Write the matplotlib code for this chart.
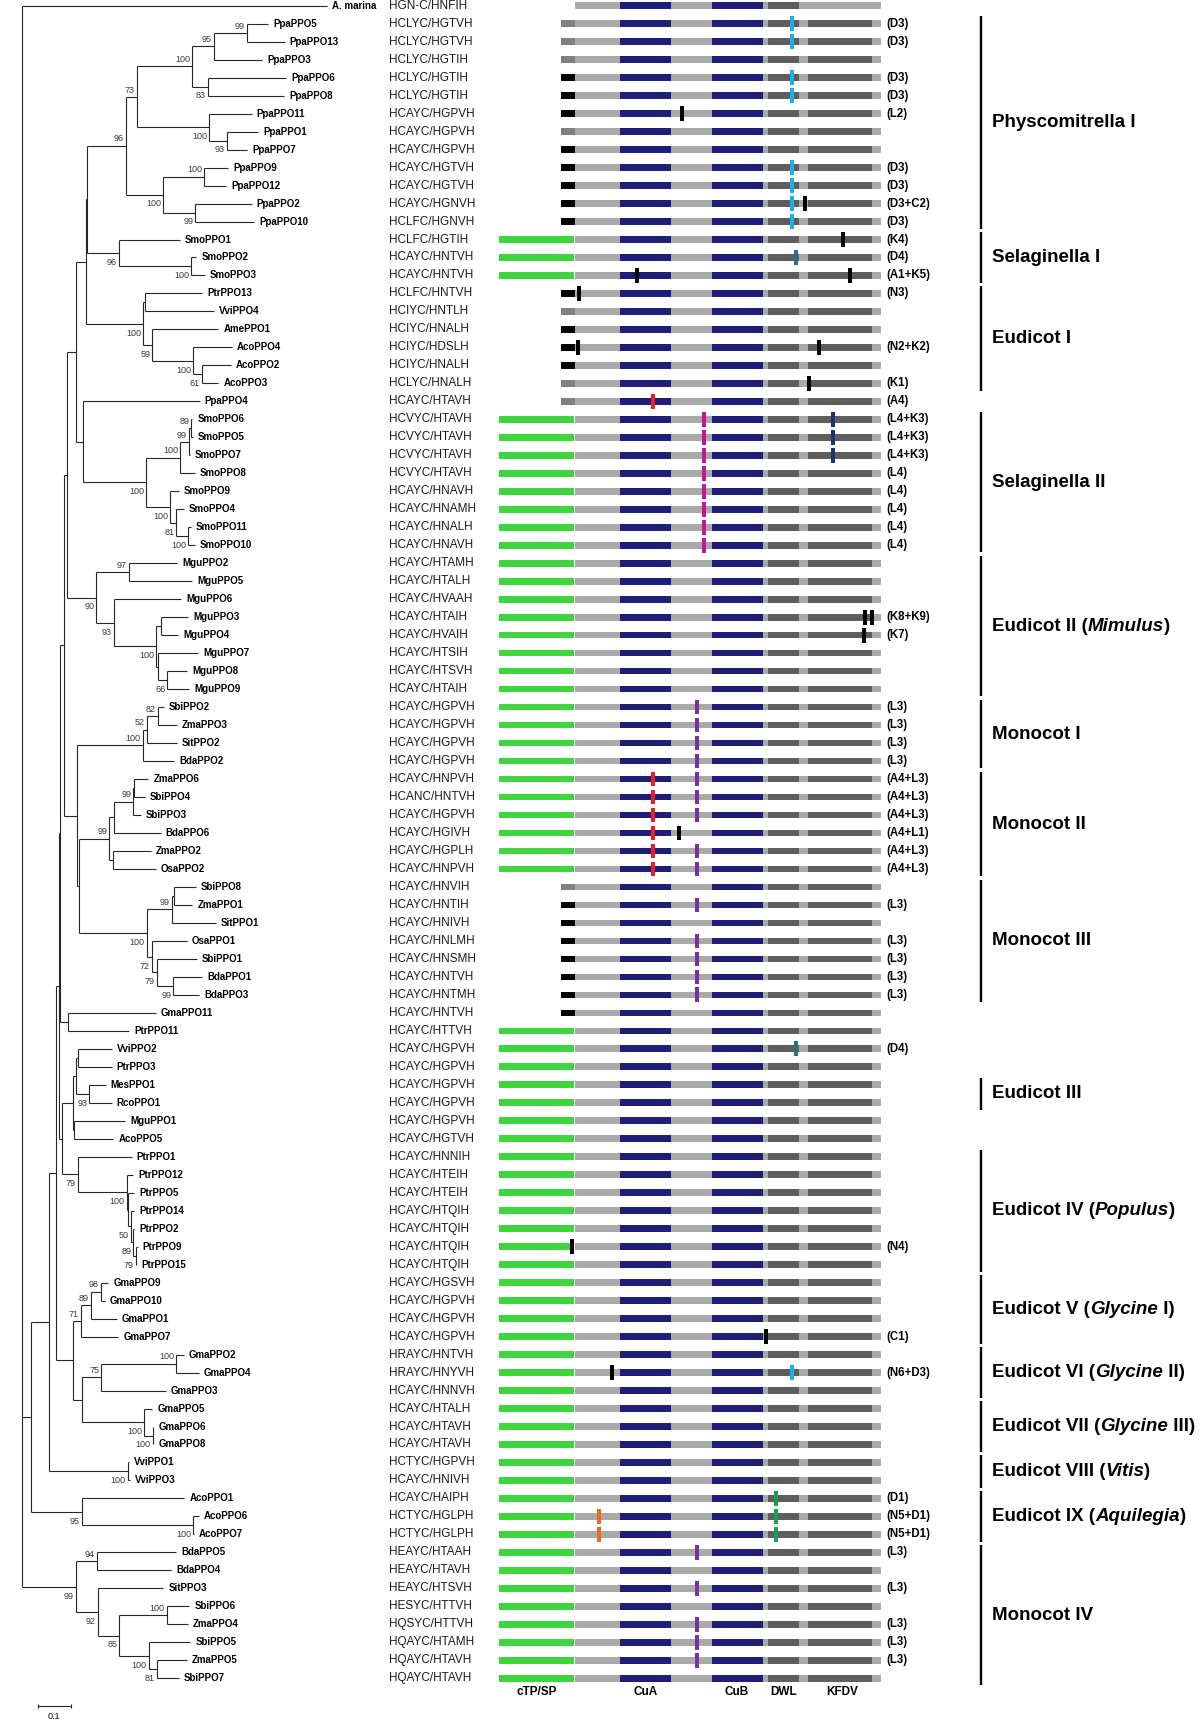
import re
import numpy as np
import matplotlib
matplotlib.use('Agg')
import matplotlib.pyplot as plt

plt.rcParams['font.family'] = ['Liberation Sans', 'DejaVu Sans']

# ---- tree (newick, branch lengths in substitutions/site, bootstrap as node labels)
ppa_clade = ("((((PpaPPO5:0.0652,PpaPPO13:0.1148)99:0.1009,PpaPPO3:0.1479)95:0.0658,"
             "(PpaPPO6:0.2370,PpaPPO8:0.2309)83:0.0485)100:0.1676,"
             "(PpaPPO11:0.1300,(PpaPPO1:0.0955,PpaPPO7:0.0621)93:0.0545)100:0.2191)73:0.0333,"
             "((PpaPPO9:0.0742,PpaPPO12:0.0682)100:0.1242,"
             "(PpaPPO2:0.1712,PpaPPO10:0.1782)99:0.0982)100:0.1130)96:0.1167")
sel1_clade = "(SmoPPO1:0.1855,(SmoPPO2:0.0155,SmoPPO3:0.0418)100:0.2203)96:0.0955"
eud1_clade = ("((PtrPPO13:0.1730,VviPPO4:0.2085):0.0073,(AmePPO1:0.2003,(AcoPPO4:0.1179,"
              "(AcoPPO2:0.0876,AcoPPO3:0.0500)61:0.0273)100:0.1230)59:0.0285)100:0.1721")
sel2_clade = ("((((SmoPPO6:0.0030,SmoPPO5:0.0055)89:0.0073,SmoPPO7:0.0036)99:0.0273,SmoPPO8:0.0445)100:0.1018,"
              "(SmoPPO9:0.0252,(SmoPPO4:0.0221,(SmoPPO11:0.0082,SmoPPO10:0.0203)100:0.0352)81:0.0182)100:0.0727)100:0.1921")
mgu_clade = ("((MguPPO2:0.1467,MguPPO5:0.1909)97:0.0988,(MguPPO6:0.2052,((MguPPO3:0.0806,MguPPO4:0.0503):0.0152,"
             "(MguPPO7:0.1200,(MguPPO8:0.0594,MguPPO9:0.0655)66:0.0273):0.0061)100:0.1294)93:0.0524)90:0.0879")
mono1_clade = "(((SbiPPO2:0.0191,ZmaPPO3:0.0576)82:0.0333,SitPPO2:0.0909)52:0.0121,BdaPPO2:0.0948)100:0.1982"
mono2_clade = ("((((ZmaPPO6:0.0424,SbiPPO4:0.0324):0.0030,SbiPPO3:0.0224)99:0.0585,BdaPPO6:0.1415):0.0142,"
               "(ZmaPPO2:0.1161,OsaPPO2:0.1303):0.0103)99:0.0909")
mono3_clade = ("(((SbiPPO8:0.0648,ZmaPPO1:0.0545):0.0079,SitPPO1:0.1333)99:0.0758,(OsaPPO1:0.1061,"
               "(SbiPPO1:0.1212,(BdaPPO1:0.0879,BdaPPO3:0.0779)99:0.0503)79:0.0152)72:0.0152)100:0.2042")
eud3_clade = ("(((VviPPO2:0.1012,PtrPPO3:0.1012):0.0070,(MesPPO1:0.0497,RcoPPO1:0.0679)93:0.0403):0.0100,"
              "(MguPPO1:0.1545,AcoPPO5:0.1191):0.0039):0.0324")
pop_clade = ("(PtrPPO1:0.1636,(PtrPPO12:0.0200,(PtrPPO5:0.0182,(PtrPPO14:0.0100,(PtrPPO2:0.0030,"
             "(PtrPPO9:0.0061,PtrPPO15:0.0015)79:0.0073)89:0.0070)50:0.0082):0.0048)100:0.1485)79:0.0476")
gly_clade = ("((((GmaPPO9:0.0230,GmaPPO10:0.0130)98:0.0303,GmaPPO1:0.0788)89:0.0303,GmaPPO7:0.1145)71:0.0242,"
             "(((GmaPPO2:0.0227,GmaPPO4:0.0682)100:0.2273,GmaPPO3:0.1955)75:0.0576,"
             "(GmaPPO5:0.0248,(GmaPPO6:0.0012,GmaPPO8:0.0012)100:0.0264)100:0.1879):0.0282):0.0506")
vvi_clade = "(VviPPO1:0.0024,VviPPO3:0.0070)100:0.2376"
aqu_clade = "(AcoPPO1:0.3115,(AcoPPO6:0.0158,AcoPPO7:0.0021)100:0.3382)95:0.1536"
mono4_clade = ("((BdaPPO5:0.2409,BdaPPO4:0.2258)94:0.0636,(SitPPO3:0.1994,((SbiPPO6:0.0691,ZmaPPO4:0.0639)100:0.1436,"
               "(SbiPPO5:0.1258,(ZmaPPO5:0.0912,SbiPPO7:0.0661)81:0.0242)100:0.0891)85:0.0655)92:0.0667)99:0.1636")

tree_newick = (
    "(A._marina:0.9242," + "(" * 11
    + ppa_clade + "," + sel1_clade + "):0.0030,"
    + eud1_clade + "):0.0297,"
    + "(PpaPPO4:0.3542," + sel2_clade + "):0.0200"
    + "):0.0273,"
    + mgu_clade + "):0.0091,"
    + "(" + mono1_clade + ",(" + mono2_clade + "," + mono3_clade + "):0.0061):0.0394"
    + "):0.0130,"
    + "(GmaPPO11:0.2667,PtrPPO11:0.1867):0.0233"
    + "):0.0045,"
    + "(" + eud3_clade + "," + pop_clade + "):0.0106"
    + "):0.0076,"
    + gly_clade + "):0.0203,"
    + vvi_clade + "):0.0555,"
    + aqu_clade + "):0.0282,"
    + mono4_clade + "):0.0627"
    + ");"
)
scale_bar = 0.1

# ---- per-leaf annotations (tree order, top to bottom)
motifs = [
    "HGN-C/HNFIH",
    "HCLYC/HGTVH", "HCLYC/HGTVH", "HCLYC/HGTIH", "HCLYC/HGTIH", "HCLYC/HGTIH", "HCAYC/HGPVH",
    "HCAYC/HGPVH", "HCAYC/HGPVH", "HCAYC/HGTVH", "HCAYC/HGTVH", "HCAYC/HGNVH", "HCLFC/HGNVH",
    "HCLFC/HGTIH", "HCAYC/HNTVH", "HCAYC/HNTVH",
    "HCLFC/HNTVH", "HCIYC/HNTLH", "HCIYC/HNALH", "HCIYC/HDSLH", "HCIYC/HNALH", "HCLYC/HNALH",
    "HCAYC/HTAVH",
    "HCVYC/HTAVH", "HCVYC/HTAVH", "HCVYC/HTAVH", "HCVYC/HTAVH",
    "HCAYC/HNAVH", "HCAYC/HNAMH", "HCAYC/HNALH", "HCAYC/HNAVH",
    "HCAYC/HTAMH", "HCAYC/HTALH", "HCAYC/HVAAH", "HCAYC/HTAIH", "HCAYC/HVAIH", "HCAYC/HTSIH",
    "HCAYC/HTSVH", "HCAYC/HTAIH",
    "HCAYC/HGPVH", "HCAYC/HGPVH", "HCAYC/HGPVH", "HCAYC/HGPVH",
    "HCAYC/HNPVH", "HCANC/HNTVH", "HCAYC/HGPVH", "HCAYC/HGIVH", "HCAYC/HGPLH", "HCAYC/HNPVH",
    "HCAYC/HNVIH", "HCAYC/HNTIH", "HCAYC/HNIVH", "HCAYC/HNLMH", "HCAYC/HNSMH", "HCAYC/HNTVH",
    "HCAYC/HNTMH",
    "HCAYC/HNTVH", "HCAYC/HTTVH",
    "HCAYC/HGPVH", "HCAYC/HGPVH", "HCAYC/HGPVH", "HCAYC/HGPVH", "HCAYC/HGPVH", "HCAYC/HGTVH",
    "HCAYC/HNNIH", "HCAYC/HTEIH", "HCAYC/HTEIH", "HCAYC/HTQIH", "HCAYC/HTQIH", "HCAYC/HTQIH",
    "HCAYC/HTQIH",
    "HCAYC/HGSVH", "HCAYC/HGPVH", "HCAYC/HGPVH", "HCAYC/HGPVH",
    "HRAYC/HNTVH", "HRAYC/HNYVH", "HCAYC/HNNVH",
    "HCAYC/HTALH", "HCAYC/HTAVH", "HCAYC/HTAVH",
    "HCTYC/HGPVH", "HCAYC/HNIVH",
    "HCAYC/HAIPH", "HCTYC/HGLPH", "HCTYC/HGLPH",
    "HEAYC/HTAAH", "HEAYC/HTAVH", "HEAYC/HTSVH", "HESYC/HTTVH", "HQSYC/HTTVH", "HQAYC/HTAMH",
    "HQAYC/HTAVH", "HQAYC/HTAVH",
]
# n-terminal part: n = none, g = grey box, k = black box, c = cTP/SP
nterm = ("n" + "ggg" + "kkk" + "g" + "kkkkk" + "ccc" + "k" + "g" + "kkk" + "g" + "g"
         + "c" * 26 + "g" + "k" * 7 + "c" * 37)
mutations = [
    "", "D3", "D3", "", "D3", "D3", "L2", "", "", "D3", "D3", "D3+C2", "D3",
    "K4", "D4", "A1+K5",
    "N3", "", "", "N2+K2", "", "K1",
    "A4",
    "L4+K3", "L4+K3", "L4+K3", "L4", "L4", "L4", "L4", "L4",
    "", "", "", "K8+K9", "K7", "", "", "",
    "L3", "L3", "L3", "L3",
    "A4+L3", "A4+L3", "A4+L3", "A4+L1", "A4+L3", "A4+L3",
    "", "L3", "", "L3", "L3", "L3", "L3",
    "", "",
    "D4", "", "", "", "", "",
    "", "", "", "", "", "N4", "",
    "", "", "", "C1",
    "", "N6+D3", "",
    "", "", "",
    "", "",
    "D1", "N5+D1", "N5+D1",
    "L3", "", "L3", "", "L3", "L3", "L3", "",
]
no_kfdv = ["A. marina"]

clade_pre = ["Physcomitrella I", "Selaginella I", "Eudicot I", "Selaginella II", "Eudicot II (",
             "Monocot I", "Monocot II", "Monocot III", "Eudicot III", "Eudicot IV (", "Eudicot V (",
             "Eudicot VI (", "Eudicot VII (", "Eudicot VIII (", "Eudicot IX (", "Monocot IV"]
clade_ital = ["", "", "", "", "Mimulus", "", "", "", "", "Populus", "Glycine", "Glycine", "Glycine",
              "Vitis", "Aquilegia", ""]
clade_post = ["", "", "", "", ")", "", "", "", "", ")", " I)", " II)", " III)", ")", ")", ""]
clade_first = [1, 13, 16, 23, 31, 39, 43, 49, 60, 64, 71, 75, 78, 81, 83, 86]
clade_last = [12, 15, 21, 30, 38, 42, 48, 55, 61, 70, 74, 77, 80, 82, 85, 93]

domain_names = ["cTP/SP", "CuA", "CuB", "DWL", "KFDV"]

# ---- schematic layout (pixels of the protein scheme)
CTP = (499.3, 574.0)
NBOX = (561.0, 574.7)
BODY = (574.7, 880.7)
CUA = (619.7, 671.0)
CUB = (711.7, 763.0)
DWL = (768.3, 799.3)
KFDV = (807.7, 872.3)
domain_label_x = [537, 645.6, 737, 784, 842]
mut_pos = {"A1": 636.7, "A4": 653.3, "L1": 678.7, "L2": 681.7, "L3": 697.3, "L4": 703.7,
           "C1": 765.7, "C2": 805.0, "D1": 776.3, "D3": 791.7, "D4": 796.0, "K1": 809.0,
           "K2": 819.0, "K3": 833.3, "K4": 843.3, "K5": 850.0, "K7": 864.0, "K8": 865.3,
           "K9": 872.0, "N2": 577.5, "N3": 579.3, "N4": 572.0, "N5": 599.3, "N6": 611.7}
mut_col = {"D3": "#1eaee8", "D4": "#2e6c7e", "K3": "#1a3272", "L4": "#c0189c", "L3": "#7a30a0",
           "A4": "#ee1c24", "N5": "#f26522", "D1": "#18a05a"}

GREEN, NAVY, LIGHT, DARK, GREYBOX = "#3ed43e", "#1e1e78", "#a9a9a9", "#5e5e5e", "#808080"


def parse(s):
    s = re.sub(r"\s+", "", s)
    pos = 0

    def node():
        nonlocal pos
        n = {"children": [], "name": "", "length": 0.0}
        if s[pos] == "(":
            pos += 1
            n["children"].append(node())
            while s[pos] == ",":
                pos += 1
                n["children"].append(node())
            pos += 1
        start = pos
        while s[pos] not in ":,);":
            pos += 1
        n["name"] = s[start:pos].replace("_", " ")
        if s[pos] == ":":
            pos += 1
            start = pos
            while s[pos] not in ",);":
                pos += 1
            n["length"] = float(s[start:pos])
        return n
    return node()


root = parse(tree_newick)
leaves = []


def place(n, x0):
    n["x"] = x0 + n["length"]
    if not n["children"]:
        n["y"] = len(leaves)
        leaves.append(n)
    else:
        for c in n["children"]:
            place(c, n["x"])
        n["y"] = (n["children"][0]["y"] + n["children"][-1]["y"]) / 2


place(root, 0.0)

fig = plt.figure(figsize=(12, 17.22), dpi=100)
PX = 330.0  # pixels per substitution unit
ax_t = fig.add_axes([0, 0, 1, 1])
ax_t.set_xlim(-1 / PX, 1199 / PX)
ax_d = fig.add_axes([0, 0, 1, 1])
ax_d.set_xlim(0, 1200)
for a in (ax_t, ax_d):
    a.set_ylim(95.43, -0.317)
    a.axis('off')
    a.patch.set_alpha(0)

LINE = "#262626"


def draw(n):
    if not n["children"]:
        return
    ax_t.vlines(n["x"], n["children"][0]["y"], n["children"][-1]["y"], color=LINE, lw=0.8)
    for i, c in enumerate(n["children"]):
        ax_t.hlines(c["y"], n["x"], c["x"], color=LINE, lw=0.8)
        if c["children"] and c["name"]:
            dy = -0.37 if i == 0 else 0.52
            ax_t.text(c["x"] - 2 / PX, c["y"] + dy, c["name"], fontsize=6.5, color="#3a3a3a",
                      ha="right", va="center")
        draw(c)


draw(root)
for lf in leaves:
    ax_t.text(lf["x"] + 5 / PX, lf["y"], lf["name"], fontsize=7, fontweight="bold",
              ha="left", va="center")

# scale bar
sb_x0 = 0.111
ax_t.hlines(94.54, sb_x0, sb_x0 + scale_bar, color=LINE, lw=0.8)
ax_t.vlines([sb_x0, sb_x0 + scale_bar], 94.42, 94.66, color=LINE, lw=0.8)
ax_t.text(sb_x0 + scale_bar / 2, 95.1, str(scale_bar), fontsize=6.5, ha="center", va="center")

# motifs and protein schemes
rows = np.arange(len(leaves))
names = [lf["name"] for lf in leaves]
for r, m in zip(rows, motifs):
    ax_d.text(388.7, r, m, fontsize=8.5, color="#1a1a1a", ha="left", va="center")

H = 0.37
ax_d.barh(rows, BODY[1] - BODY[0], left=BODY[0], height=H, color=LIGHT, lw=0)
ctp_rows = [r for r in rows if nterm[r] == "c"]
ax_d.barh(ctp_rows, CTP[1] - CTP[0], left=CTP[0], height=H, color=GREEN, lw=0)
g_rows = [r for r in rows if nterm[r] == "g"]
k_rows = [r for r in rows if nterm[r] == "k"]
ax_d.barh(g_rows, NBOX[1] - NBOX[0], left=NBOX[0], height=H, color=GREYBOX, lw=0)
ax_d.barh(k_rows, NBOX[1] - NBOX[0], left=NBOX[0], height=H, color="black", lw=0)
ax_d.barh(rows, CUA[1] - CUA[0], left=CUA[0], height=H, color=NAVY, lw=0)
ax_d.barh(rows, CUB[1] - CUB[0], left=CUB[0], height=H, color=NAVY, lw=0)
ax_d.barh(rows, DWL[1] - DWL[0], left=DWL[0], height=H, color=DARK, lw=0)
kf_rows = [r for r in rows if names[r] not in no_kfdv]
ax_d.barh(kf_rows, KFDV[1] - KFDV[0], left=KFDV[0], height=H, color=DARK, lw=0)

for r, mut in zip(rows, mutations):
    if not mut:
        continue
    for code in mut.split("+"):
        ax_d.bar(mut_pos[code], 0.82, bottom=r - 0.41, width=4, color=mut_col.get(code, "black"), lw=0)
    ax_d.text(886, r, "(" + mut + ")", fontsize=8.3, fontweight="bold", ha="left", va="center")

for x, lab in zip(domain_label_x, domain_names):
    ax_d.text(x, 93.76, lab, fontsize=8.5, fontweight="bold", ha="center", va="center")

# clade brackets and names
for pre, ital, post, f, l in zip(clade_pre, clade_ital, clade_post, clade_first, clade_last):
    ax_d.vlines(980.7, f - 0.4, l + 0.4, color="black", lw=1.7)
    t = ax_d.text(992, (f + l) / 2, pre, fontsize=13.5, fontweight="bold", ha="left", va="center")
    if ital:
        t2 = ax_d.annotate(ital, xy=(1, 0), xycoords=t, xytext=(0, 0), textcoords="offset points",
                           fontsize=13.5, fontweight="bold", fontstyle="italic", ha="left", va="bottom")
        ax_d.annotate(post, xy=(1, 0), xycoords=t2, xytext=(0, 0), textcoords="offset points",
                      fontsize=13.5, fontweight="bold", ha="left", va="bottom")

fig.savefig("out.png", dpi=100)
